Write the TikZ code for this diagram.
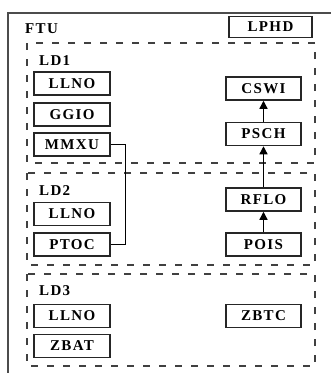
\documentclass[tikz,border=0pt]{standalone}
\usepackage{fontspec}
\setmainfont{Liberation Serif}[LetterSpace=9]
\usetikzlibrary{arrows.meta}

\begin{document}
\begin{tikzpicture}[x=1pt,y=-1pt,
  lnbox/.style={draw=black!85,line width=1.5pt,minimum width=76pt,minimum height=23pt,inner sep=0pt,font=\fontsize{15}{17}\selectfont\bfseries},
  ldlabel/.style={anchor=west,inner sep=0pt,font=\fontsize{15}{17}\selectfont\bfseries},
  ldframe/.style={draw=black!75,line width=1.4pt,dash pattern=on 7pt off 9pt},
  flow/.style={line width=1.3pt,-{Triangle[width=8pt,length=8pt]}}]
\useasboundingbox (0,0) rectangle (331,373);
\clip (0,0) rectangle (331,373);
% outer device frame
\draw[line width=1.8pt,black!70] (8,13) rectangle (345,385);
\node[ldlabel] (ftu) at (25,29) {FTU};
\node[lnbox,minimum width=83pt,minimum height=21pt] (lphd) at (270.5,27) {LPHD};
% logical devices
\draw[ldframe] (27,43) rectangle (315,163);
\draw[ldframe] (27,173) rectangle (315,265);
\draw[ldframe] (27,274) rectangle (315,366);
\node[ldlabel] (ld1) at (39,61) {LD1};
\node[ldlabel] (ld2) at (39,191) {LD2};
\node[ldlabel] (ld3) at (39,291) {LD3};
% LD1
\node[lnbox] (llno1) at (72,83.5) {LLNO};
\node[lnbox] (ggio) at (72,114.5) {GGIO};
\node[lnbox] (mmxu) at (72,144.5) {MMXU};
\node[lnbox,minimum width=75pt] (cswi) at (263.5,88.5) {CSWI};
\node[lnbox,minimum width=75pt] (psch) at (263.5,134) {PSCH};
% LD2
\node[lnbox] (llno2) at (72,214) {LLNO};
\node[lnbox] (ptoc) at (72,244.5) {PTOC};
\node[lnbox,minimum width=75pt] (rflo) at (263.5,199.5) {RFLO};
\node[lnbox,minimum width=75pt] (pois) at (263.5,244.5) {POIS};
% LD3
\node[lnbox] (llno3) at (72,316) {LLNO};
\node[lnbox] (zbat) at (72,346) {ZBAT};
\node[lnbox,minimum width=75pt] (zbtc) at (263.5,316) {ZBTC};
% connections
\draw[line width=1.3pt] (mmxu.east) -- ++(15,0) |- (ptoc.east);
\draw[flow] (pois) -- (rflo);
\draw[flow] (rflo) -- (psch);
\draw[flow] (psch) -- (cswi);
\end{tikzpicture}
\end{document}
